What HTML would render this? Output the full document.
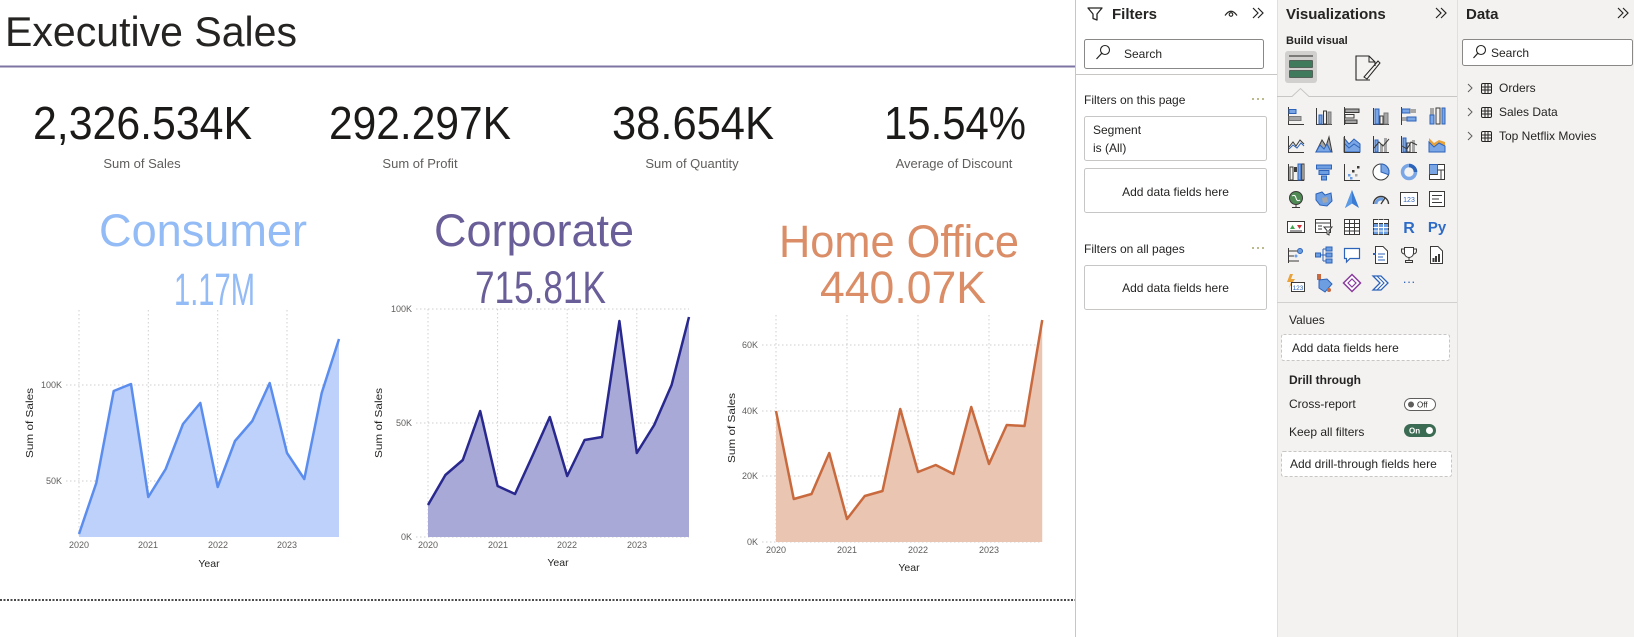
<!DOCTYPE html>
<html><head><meta charset="utf-8"><style>
html,body{margin:0;padding:0;background:#fff;width:1634px;height:637px;overflow:hidden}
svg{display:block}
text{font-family:"Liberation Sans",Arial,sans-serif}
</style></head><body>
<svg width="1634" height="637" viewBox="0 0 1634 637" xmlns="http://www.w3.org/2000/svg">
<rect width="1634" height="637" fill="#fff"/>
<!-- Title -->
<text x="5" y="46" font-size="42" fill="#252423" textLength="292" lengthAdjust="spacingAndGlyphs">Executive Sales</text>
<line x1="0" y1="66.5" x2="1075" y2="66.5" stroke="#7d74a3" stroke-width="2"/>
<!-- KPIs -->
<g font-size="46" fill="#1b1a19">
<text x="33" y="139" textLength="219" lengthAdjust="spacingAndGlyphs">2,326.534K</text>
<text x="329" y="139" textLength="182" lengthAdjust="spacingAndGlyphs">292.297K</text>
<text x="612" y="139" textLength="162" lengthAdjust="spacingAndGlyphs">38.654K</text>
<text x="884" y="139" textLength="142" lengthAdjust="spacingAndGlyphs">15.54%</text>
</g>
<g font-size="13" fill="#605e5c" text-anchor="middle">
<text x="142" y="168">Sum of Sales</text>
<text x="420" y="168">Sum of Profit</text>
<text x="692" y="168">Sum of Quantity</text>
<text x="954" y="168">Average of Discount</text>
</g>
<!-- Segment titles -->
<g font-size="45">
<text x="99" y="246" fill="#93bbf5" textLength="208" lengthAdjust="spacingAndGlyphs">Consumer</text>
<text x="174" y="305" fill="#93bbf5" textLength="81" lengthAdjust="spacingAndGlyphs">1.17M</text>
<text x="434" y="246" fill="#6a5e98" textLength="200" lengthAdjust="spacingAndGlyphs">Corporate</text>
<text x="475" y="303" fill="#6a5e98" textLength="131" lengthAdjust="spacingAndGlyphs">715.81K</text>
<text x="779" y="257" fill="#da8d66" textLength="240" lengthAdjust="spacingAndGlyphs">Home Office</text>
<text x="820" y="303" fill="#da8d66" textLength="166" lengthAdjust="spacingAndGlyphs">440.07K</text>
</g>
<!-- Gridlines -->
<g stroke="#cfcfcf" stroke-width="1" stroke-dasharray="1.5 2.5" fill="none">
<path d="M79 310V537M148.3 310V537M217.7 310V537M287 310V537M66 385H339M66 481H339"/>
<path d="M428 309V537M497.6 309V537M567.2 309V537M636.8 309V537M416 309H689M416 423H689M416 537H689"/>
<path d="M776 315V542M847 315V542M918 315V542M989 315V542M762 345H1042M762 411H1042M762 476H1042M762 542H1042"/>
</g>
<!-- Consumer -->
<polygon fill="#bed1fa" points="79,537 79,534 96.3,483 113.7,391 131,384 148.3,497 165.7,469 183,424 200.3,403 217.7,487 235,441 252.3,421 269.7,383 287,453 304.3,479 321.7,393 339,339 339,537"/>
<polyline fill="none" stroke="#5b8def" stroke-width="2.5" stroke-linejoin="round" points="79,534 96.3,483 113.7,391 131,384 148.3,497 165.7,469 183,424 200.3,403 217.7,487 235,441 252.3,421 269.7,383 287,453 304.3,479 321.7,393 339,339"/>
<!-- Corporate -->
<polygon fill="#a8a9d6" points="428,537 428,505 445.4,475 462.8,460 480.2,411 497.6,486 515,494 532.4,456 549.8,417 567.2,476 584.6,440 602,437 619.4,321 636.8,453 654.2,425 671.6,385 689,317 689,537"/>
<polyline fill="none" stroke="#28288e" stroke-width="2.5" stroke-linejoin="round" points="428,505 445.4,475 462.8,460 480.2,411 497.6,486 515,494 532.4,456 549.8,417 567.2,476 584.6,440 602,437 619.4,321 636.8,453 654.2,425 671.6,385 689,317"/>
<!-- Home Office -->
<polygon fill="#e9c5b2" points="776,542 776,411 793.75,499 811.5,494 829.25,453 847,519 864.75,496 882.5,491 900.25,409 918,472 935.75,465 953.5,474 971.25,407 989,464 1006.75,425 1024.5,426 1042.25,320 1042.25,542"/>
<polyline fill="none" stroke="#c96a3e" stroke-width="2.5" stroke-linejoin="round" points="776,411 793.75,499 811.5,494 829.25,453 847,519 864.75,496 882.5,491 900.25,409 918,472 935.75,465 953.5,474 971.25,407 989,464 1006.75,425 1024.5,426 1042.25,320"/>
<!-- Axis labels -->
<g font-size="9" fill="#605e5c">
<g text-anchor="end">
<text x="62" y="388">100K</text><text x="62" y="484">50K</text>
<text x="412" y="312">100K</text><text x="412" y="426">50K</text><text x="412" y="540">0K</text>
<text x="758" y="348">60K</text><text x="758" y="414">40K</text><text x="758" y="479">20K</text><text x="758" y="545">0K</text>
</g>
<g text-anchor="middle">
<text x="79" y="548">2020</text><text x="148" y="548">2021</text><text x="218" y="548">2022</text><text x="287" y="548">2023</text>
<text x="428" y="548">2020</text><text x="498" y="548">2021</text><text x="567" y="548">2022</text><text x="637" y="548">2023</text>
<text x="776" y="553">2020</text><text x="847" y="553">2021</text><text x="918" y="553">2022</text><text x="989" y="553">2023</text>
</g>
</g>
<g font-size="10.5" fill="#252423" text-anchor="middle">
<text x="209" y="567">Year</text><text x="558" y="566">Year</text><text x="909" y="571">Year</text>
<text transform="translate(33,423) rotate(-90)" textLength="70" lengthAdjust="spacingAndGlyphs">Sum of Sales</text>
<text transform="translate(382,423) rotate(-90)" textLength="70" lengthAdjust="spacingAndGlyphs">Sum of Sales</text>
<text transform="translate(735,428) rotate(-90)" textLength="70" lengthAdjust="spacingAndGlyphs">Sum of Sales</text>
</g>
<!-- bottom dotted line -->
<line x1="0" y1="600" x2="1075" y2="600" stroke="#4a4a4a" stroke-width="2" stroke-dasharray="2 1.5"/>

<!-- ===== Filters pane ===== -->
<rect x="1075" y="0" width="202" height="637" fill="#fff"/>
<line x1="1075.5" y1="0" x2="1075.5" y2="637" stroke="#c8c6c4"/>
<path d="M1088 8H1102L1097 14V20L1093 18.5V14Z" fill="none" stroke="#252423" stroke-width="1.3" stroke-linejoin="round"/>
<text x="1112" y="19" font-size="15" font-weight="bold" fill="#252423">Filters</text>
<path d="M1225 15.5Q1231 7 1237 15.5" fill="none" stroke="#252423" stroke-width="1.2"/>
<circle cx="1231" cy="14.5" r="1.8" fill="none" stroke="#252423" stroke-width="1.1"/>
<path d="M1253 8L1258 13L1253 18M1258 8L1263 13L1258 18" fill="none" stroke="#252423" stroke-width="1.2"/>
<rect x="1084.5" y="39.5" width="179" height="29" rx="2" fill="#fff" stroke="#8a8886"/>
<circle cx="1105" cy="50" r="4.5" fill="none" stroke="#252423" stroke-width="1.1"/>
<line x1="1101.8" y1="53.2" x2="1096.5" y2="59" stroke="#252423" stroke-width="1.2"/>
<text x="1124" y="58" font-size="12" fill="#252423">Search</text>
<line x1="1076" y1="74.5" x2="1277" y2="74.5" stroke="#c8c6c4"/>
<text x="1084" y="104" font-size="12" fill="#252423">Filters on this page</text>
<g fill="#8c8a3f"><circle cx="1253" cy="99" r="0.9"/><circle cx="1258" cy="99" r="0.9"/><circle cx="1263" cy="99" r="0.9"/>
<circle cx="1253" cy="248" r="0.9"/><circle cx="1258" cy="248" r="0.9"/><circle cx="1263" cy="248" r="0.9"/></g>
<rect x="1084.5" y="116.5" width="182" height="44" rx="2" fill="#fff" stroke="#c8c6c4"/>
<text x="1093" y="134" font-size="12" fill="#252423">Segment</text>
<text x="1093" y="152" font-size="12" fill="#252423">is (All)</text>
<rect x="1084.5" y="168.5" width="182" height="44" rx="2" fill="#fff" stroke="#c8c6c4"/>
<text x="1175.5" y="196" font-size="12" fill="#252423" text-anchor="middle">Add data fields here</text>
<text x="1084" y="253" font-size="12" fill="#252423">Filters on all pages</text>
<rect x="1084.5" y="265.5" width="182" height="44" rx="2" fill="#fff" stroke="#c8c6c4"/>
<text x="1175.5" y="292" font-size="12" fill="#252423" text-anchor="middle">Add data fields here</text>

<!-- ===== Visualizations pane ===== -->
<rect x="1277" y="0" width="180" height="637" fill="#f3f2f1"/>
<line x1="1277.5" y1="0" x2="1277.5" y2="637" stroke="#e1dfdd"/>
<text x="1286" y="19" font-size="15" font-weight="bold" fill="#252423">Visualizations</text>
<path d="M1436 8L1441 13L1436 18M1441 8L1446 13L1441 18" fill="none" stroke="#252423" stroke-width="1.2"/>
<text x="1286" y="44" font-size="11" font-weight="bold" fill="#252423">Build visual</text>
<rect x="1285" y="51" width="32" height="32" rx="3" fill="#d2d0ce"/>
<line x1="1289" y1="56" x2="1313" y2="56" stroke="#252423"/>
<rect x="1289.5" y="60.5" width="23" height="7" fill="#3e7a5b" stroke="#1f1f1f" stroke-dasharray="1 1"/>
<rect x="1289.5" y="70.5" width="23" height="7" fill="#3e7a5b" stroke="#1f1f1f" stroke-dasharray="1 1"/>
<path d="M1370 80H1356V56H1369L1375 62V66" fill="none" stroke="#252423" stroke-width="1.1"/>
<path d="M1369 56V62H1375" fill="none" stroke="#252423" stroke-width="1"/>
<path d="M1364 77L1378 61L1380 63L1367 79Z" fill="none" stroke="#252423" stroke-width="1"/>
<path d="M1277 96.5H1292L1300.5 88.5L1309 96.5H1457" fill="none" stroke="#c8c6c4"/>
<!-- icon grid -->
<g stroke-width="1" fill="none">
<g transform="translate(1286,106)"><path d="M2.5 1V19M2 18.5H18" stroke="#3b3a39"/><rect x="3" y="3.5" width="7" height="4" fill="#7aa6e6" stroke="#2d63b8"/><rect x="3" y="10.5" width="12" height="4" fill="#a6a6a6" stroke="#7a7a7a"/></g>
<g transform="translate(1314,106)"><path d="M2.5 2V18.5H18" stroke="#3b3a39"/><rect x="5" y="9" width="3" height="9" fill="#7aa6e6" stroke="#2d63b8"/><rect x="9.5" y="5" width="3" height="13" stroke="#3b3a39"/><rect x="14" y="6" width="3" height="12" fill="#a6a6a6" stroke="#7a7a7a"/></g>
<g transform="translate(1342,106)"><path d="M2.5 1V19" stroke="#3b3a39"/><rect x="3" y="3" width="14" height="3.5" fill="#a6a6a6" stroke="#3b3a39"/><rect x="3" y="8.5" width="9" height="3.5" stroke="#3b3a39"/><rect x="3" y="14" width="12" height="3.5" fill="#a6a6a6" stroke="#3b3a39"/></g>
<g transform="translate(1371,106)"><path d="M2.5 2V18.5H18" stroke="#3b3a39"/><rect x="4" y="3" width="4" height="15" fill="#7aa6e6" stroke="#2d63b8"/><rect x="9" y="10" width="3" height="8" stroke="#3b3a39"/><rect x="13" y="7" width="4" height="11" fill="#a6a6a6" stroke="#7a7a7a"/></g>
<g transform="translate(1399,106)"><path d="M2.5 1V19" stroke="#3b3a39"/><rect x="3" y="3" width="8" height="4" fill="#7aa6e6" stroke="#2d63b8"/><rect x="11" y="3" width="6" height="4" fill="#a6a6a6"/><rect x="3" y="11" width="5" height="4" fill="#a6a6a6"/><rect x="8" y="11" width="9" height="4" fill="#7aa6e6" stroke="#2d63b8"/></g>
<g transform="translate(1427,106)"><rect x="3" y="2" width="4" height="16" fill="#a6a6a6"/><rect x="3" y="9" width="4" height="9" fill="#7aa6e6" stroke="#2d63b8"/><rect x="9" y="2" width="4" height="16" stroke="#3b3a39"/><rect x="15" y="2" width="3" height="16" fill="#7aa6e6" stroke="#2d63b8"/></g>
<g transform="translate(1286,134)"><path d="M2.5 2V18.5H18" stroke="#3b3a39"/><polyline points="3,13 7,8 10,12 14,6 18,10" stroke="#3b3a39"/><polyline points="3,15 7,11 11,14 15,9 18,12" stroke="#2d63b8"/></g>
<g transform="translate(1314,134)"><path d="M2 18L8 6L12 12L15 3L18 18Z" fill="#a6a6a6" stroke="#3b3a39"/><path d="M2 18L6 11L10 15L13 10L17 18Z" fill="#7aa6e6" stroke="#2d63b8"/></g>
<g transform="translate(1342,134)"><path d="M2 4L7 10L12 5L18 10V18H2Z" fill="#7aa6e6" stroke="#2d63b8"/><path d="M2 9L7 14L12 10L18 14" stroke="#2d63b8"/><path d="M2.5 2V18.5H18" stroke="#3b3a39"/></g>
<g transform="translate(1371,134)"><path d="M2.5 2V18.5H18" stroke="#3b3a39"/><rect x="4" y="6" width="3" height="12" fill="#7aa6e6" stroke="#2d63b8"/><rect x="9" y="10" width="3" height="8" fill="#a6a6a6"/><rect x="13" y="4" width="3" height="14" fill="#a6a6a6"/><polyline points="3,14 8,8 12,12 18,5" stroke="#3b3a39"/></g>
<g transform="translate(1399,134)"><path d="M2.5 2V18.5H18" stroke="#3b3a39"/><rect x="4" y="4" width="3" height="14" fill="#7aa6e6" stroke="#2d63b8"/><rect x="8" y="9" width="3" height="9" stroke="#3b3a39"/><rect x="13" y="6" width="3" height="12" fill="#a6a6a6"/><polyline points="3,12 8,15 12,8 18,11" stroke="#3b3a39"/></g>
<g transform="translate(1427,134)"><path d="M2 4L7 9L12 6L18 8V18H2Z" fill="#e8a33d"/><path d="M2 8L7 13L12 9L18 12V18H2Z" fill="#7aa6e6" stroke="#2d63b8"/></g>
<g transform="translate(1286,162)"><path d="M2.5 2V18.5H18" stroke="#3b3a39"/><rect x="4" y="5" width="3" height="13" stroke="#3b3a39"/><rect x="8" y="5" width="3" height="5" fill="#3b3a39"/><rect x="12" y="2" width="3" height="16" fill="#7aa6e6" stroke="#2d63b8"/><rect x="16" y="2" width="2" height="16" stroke="#3b3a39"/></g>
<g transform="translate(1314,162)" fill="#6d9ee2" stroke="#2d63b8"><rect x="2.5" y="3" width="15" height="4"/><rect x="5" y="8.5" width="10" height="4"/><rect x="7.5" y="14" width="5" height="4"/></g>
<g transform="translate(1342,162)"><path d="M2.5 2V18.5H18" stroke="#3b3a39"/><rect x="6" y="12" width="2.5" height="2.5" fill="#6d9ee2"/><rect x="10" y="8" width="2.5" height="2.5" fill="#3b3a39"/><rect x="13" y="12" width="2.5" height="2.5" fill="#a6a6a6"/><rect x="15" y="4" width="2.5" height="2.5" fill="#3b3a39"/><rect x="8" y="15" width="2.5" height="2.5" fill="#6d9ee2"/></g>
<g transform="translate(1371,162)"><circle cx="10" cy="10" r="8" fill="#fff" stroke="#3b3a39"/><path d="M10 10V2A8 8 0 0 1 17.5 12.7Z" fill="#7aa6e6" stroke="#2d63b8"/></g>
<g transform="translate(1399,162)"><circle cx="10" cy="10" r="6.5" stroke="#7aa6e6" stroke-width="3.5"/><path d="M10 3.5A6.5 6.5 0 0 1 16.5 10" stroke="#2d63b8" stroke-width="3.5"/></g>
<g transform="translate(1427,162)"><rect x="2.5" y="2.5" width="15" height="15" fill="#fff" stroke="#3b3a39"/><rect x="2.5" y="2.5" width="8" height="10" fill="#7aa6e6" stroke="#2d63b8"/><path d="M10.5 8H17.5M14 8V17.5M2.5 12.5H10.5" stroke="#3b3a39"/></g>
<g transform="translate(1286,189)"><circle cx="10" cy="9" r="6.5" fill="#4f8a55" stroke="#3b3a39"/><path d="M6 7Q9 5 10 9T14 11" stroke="#fff"/><path d="M10 15.5V18M6 18.5H14" stroke="#3b3a39"/></g>
<g transform="translate(1314,189)"><path d="M2 5L8 3L11 6L17 4L18 12L13 17L6 16L2 11Z" fill="#6d9ee2" stroke="#2d63b8"/><path d="M8 9L13 8L14 13L9 14Z" fill="#a6a6a6"/></g>
<g transform="translate(1342,189)"><path d="M10 1L17 19L10 14.5L3 19Z" fill="#3a7bd5"/><path d="M10 1L10 14.5L3 19Z" fill="#5c9be6"/></g>
<g transform="translate(1371,189)"><path d="M2.5 15A7.5 7.5 0 0 1 17.5 15" stroke="#3b3a39" stroke-width="1.4"/><path d="M5 15A5 5 0 0 1 12 10.5" stroke="#6d9ee2" stroke-width="3"/><path d="M10 15L14 9" stroke="#3b3a39" stroke-width="1.3"/></g>
<g transform="translate(1399,189)"><rect x="1.5" y="3.5" width="17" height="13" fill="#fff" stroke="#3b3a39"/><text x="10" y="13" font-size="7" fill="#2d63b8" stroke="none" text-anchor="middle">123</text></g>
<g transform="translate(1427,189)"><rect x="2.5" y="2.5" width="15" height="15" fill="#fff" stroke="#3b3a39"/><path d="M5 6.5H15M5 10H12M5 13.5H15" stroke="#3b3a39"/></g>
<g transform="translate(1286,217)"><rect x="1.5" y="4.5" width="17" height="11" fill="#fff" stroke="#3b3a39"/><path d="M4 12L6.5 8L9 12Z" fill="#3fa44c"/><path d="M11 8H16L13.5 12Z" fill="#d13438"/><path d="M4 14H16" stroke="#3b3a39"/></g>
<g transform="translate(1314,217)"><rect x="1.5" y="2.5" width="15" height="13" fill="#fff" stroke="#3b3a39"/><path d="M1.5 6H16.5M4 9H8M4 12H8" stroke="#3b3a39"/><path d="M10 10H18L15 13.5V18L13 17V13.5Z" fill="#fff" stroke="#3b3a39"/></g>
<g transform="translate(1342,217)"><rect x="2.5" y="2.5" width="15" height="15" fill="#fff" stroke="#3b3a39"/><path d="M2.5 6.5H17.5M2.5 10.5H17.5M2.5 14H17.5M7.5 2.5V17.5M12.5 2.5V17.5" stroke="#3b3a39"/></g>
<g transform="translate(1371,217)"><rect x="2.5" y="2.5" width="15" height="15" fill="#6d9ee2" stroke="#3b3a39"/><rect x="2.5" y="2.5" width="15" height="4" fill="#fff" stroke="#3b3a39"/><path d="M2.5 10.5H17.5M2.5 14H17.5M7.5 2.5V17.5M12.5 2.5V17.5" stroke="#fff"/></g>
<text x="1409" y="233" font-size="16" font-weight="bold" fill="#2e6bc6" text-anchor="middle">R</text>
<text x="1437" y="232" font-size="15" font-weight="bold" fill="#2e6bc6" text-anchor="middle">Py</text>
<g transform="translate(1286,245)"><path d="M2.5 3V18M2.5 6H11M2.5 11H8M2.5 16H13" stroke="#3b3a39"/><circle cx="14" cy="6" r="2.5" fill="#6d9ee2" stroke="#2d63b8"/><circle cx="10" cy="11" r="1.5" fill="#6d9ee2"/></g>
<g transform="translate(1314,245)"><rect x="1.5" y="8" width="5" height="4" fill="#6d9ee2" stroke="#2d63b8"/><path d="M6.5 10H9M9 4V16M9 4H12M9 10H12M9 16H12" stroke="#2d63b8"/><rect x="12" y="2" width="6" height="4" fill="#6d9ee2" stroke="#2d63b8"/><rect x="12" y="8" width="6" height="4" fill="#6d9ee2" stroke="#2d63b8"/><rect x="12" y="14" width="6" height="4" fill="#6d9ee2" stroke="#2d63b8"/></g>
<g transform="translate(1342,245)"><path d="M2.5 3.5H17.5V13.5H8L4.5 17V13.5H2.5Z" fill="#fff" stroke="#2d63b8" stroke-width="1.2"/></g>
<g transform="translate(1371,245)"><path d="M4.5 1.5H12L16.5 6V18.5H4.5Z" fill="#fff" stroke="#3b3a39"/><path d="M7 9H14M7 12H12M7 15H14" stroke="#2d63b8"/><rect x="2" y="8" width="3" height="2" fill="#2d63b8"/></g>
<g transform="translate(1399,245)"><path d="M5.5 2.5H14.5V8A4.5 4.5 0 0 1 5.5 8Z" fill="#fff" stroke="#3b3a39"/><path d="M5.5 4H2.5V6A3 3 0 0 0 5.5 9M14.5 4H17.5V6A3 3 0 0 1 14.5 9M10 12.5V15.5M6.5 17.5H13.5V15.5H6.5Z" stroke="#3b3a39"/></g>
<g transform="translate(1427,245)"><path d="M3.5 1.5H11L15.5 6V18.5H3.5Z" fill="#fff" stroke="#3b3a39"/><rect x="8" y="11" width="2" height="6" fill="#3b3a39"/><rect x="11" y="9" width="2" height="8" fill="#3b3a39"/><rect x="5.5" y="13" width="2" height="4" fill="#3b3a39"/></g>
<g transform="translate(1286,273)"><path d="M4 1L1 9H5L3 15L9 6H5L7 1Z" fill="#e8a33d"/><rect x="5.5" y="9.5" width="13" height="9" fill="#fff" stroke="#3b3a39"/><text x="12" y="17" font-size="6.5" fill="#2d63b8" stroke="none" text-anchor="middle">123</text></g>
<g transform="translate(1314,273)"><path d="M3 1H7V7H3Z" fill="#c8693f"/><path d="M5 7V15L11 19L18 11L13 6Z" fill="#6d9ee2" stroke="#2d63b8"/><circle cx="15" cy="17" r="2" fill="#c8693f"/></g>
<g transform="translate(1342,273)"><path d="M10 1.5L18.5 10L10 18.5L1.5 10Z" fill="#fff" stroke="#8a3b9e" stroke-width="1.5"/><path d="M6 10L10 6L14 10L10 14Z" stroke="#8a3b9e" stroke-width="1.2"/></g>
<g transform="translate(1371,273)"><path d="M2 3H10L17 10L10 17H2L9 10Z" fill="#fff" stroke="#2d63b8" stroke-width="1.3"/><path d="M6 3L13 10L6 17" stroke="#2d63b8" stroke-width="1.1"/></g>
</g>
<text x="1409" y="286" font-size="13" fill="#2d63b8" text-anchor="middle">···</text>
<line x1="1277" y1="302.5" x2="1457" y2="302.5" stroke="#d2d0ce"/>
<text x="1289" y="324" font-size="12" fill="#252423">Values</text>
<rect x="1281.5" y="334.5" width="168" height="26" rx="2" fill="#fff" stroke="#c8c6c4" stroke-dasharray="3 2"/>
<text x="1292" y="352" font-size="12" fill="#252423">Add data fields here</text>
<text x="1289" y="384" font-size="12" font-weight="bold" fill="#252423">Drill through</text>
<text x="1289" y="408" font-size="12" fill="#252423">Cross-report</text>
<rect x="1404.5" y="398.5" width="31" height="12" rx="6" fill="#fff" stroke="#605e5c"/>
<circle cx="1411" cy="404.5" r="3" fill="#605e5c"/>
<text x="1417" y="407.5" font-size="8" fill="#252423">Off</text>
<text x="1289" y="436" font-size="12" fill="#252423">Keep all filters</text>
<rect x="1404" y="424" width="32" height="13" rx="6.5" fill="#3b6b52"/>
<circle cx="1429.5" cy="430.5" r="3.5" fill="#fff"/>
<text x="1409" y="433.5" font-size="8" font-weight="bold" fill="#fff">On</text>
<rect x="1281.5" y="451.5" width="170" height="25" rx="2" fill="#fff" stroke="#c8c6c4" stroke-dasharray="3 2"/>
<text x="1290" y="468" font-size="12" fill="#252423">Add drill-through fields here</text>

<!-- ===== Data pane ===== -->
<rect x="1457" y="0" width="177" height="637" fill="#f3f2f1"/>
<line x1="1457.5" y1="0" x2="1457.5" y2="637" stroke="#e1dfdd"/>
<text x="1466" y="19" font-size="15" font-weight="bold" fill="#252423">Data</text>
<path d="M1618 8L1623 13L1618 18M1623 8L1628 13L1623 18" fill="none" stroke="#252423" stroke-width="1.2"/>
<rect x="1462.5" y="39.5" width="170" height="26" rx="2" fill="#fff" stroke="#8a8886"/>
<circle cx="1481" cy="50" r="4.5" fill="none" stroke="#252423" stroke-width="1.1"/>
<line x1="1477.8" y1="53.2" x2="1473.5" y2="58" stroke="#252423" stroke-width="1.2"/>
<text x="1491" y="57" font-size="12" fill="#252423">Search</text>
<g fill="none" stroke="#605e5c" stroke-width="1">
<path d="M1468 84L1472 88L1468 92M1468 108L1472 112L1468 116M1468 132L1472 136L1468 140"/>
</g>
<g fill="none" stroke="#252423" stroke-width="1">
<rect x="1481.5" y="83.5" width="10" height="10" rx="1.5"/><path d="M1481.5 87H1491.5M1481.5 90H1491.5M1485 83.5V93.5M1488 83.5V93.5"/>
<rect x="1481.5" y="107.5" width="10" height="10" rx="1.5"/><path d="M1481.5 111H1491.5M1481.5 114H1491.5M1485 107.5V117.5M1488 107.5V117.5"/>
<rect x="1481.5" y="131.5" width="10" height="10" rx="1.5"/><path d="M1481.5 135H1491.5M1481.5 138H1491.5M1485 131.5V141.5M1488 131.5V141.5"/>
</g>
<g font-size="12" fill="#252423">
<text x="1499" y="92">Orders</text>
<text x="1499" y="116">Sales Data</text>
<text x="1499" y="140">Top Netflix Movies</text>
</g>
</svg>
</body></html>
